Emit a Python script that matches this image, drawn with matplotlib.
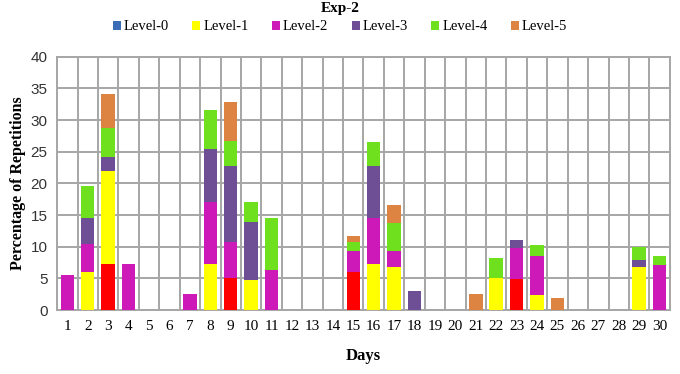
import numpy as np
import matplotlib.pyplot as plt
from matplotlib.patches import Patch

days = list(range(1, 31))
levels = ["Level-0", "Level-1", "Level-2", "Level-3", "Level-4", "Level-5"]

# percentage of repetitions per day for each level
level0 = [0, 0, 7.2, 0, 0, 0, 0, 0, 5.1, 0, 0, 0, 0, 0, 6.0, 0, 0, 0, 0, 0,
          0, 0, 4.9, 0, 0, 0, 0, 0, 0, 0]
level1 = [0, 6.0, 14.8, 0, 0, 0, 0, 7.2, 0, 4.7, 0, 0, 0, 0, 0, 7.2, 6.8, 0, 0, 0,
          0, 5.1, 0, 2.4, 0, 0, 0, 0, 6.8, 0]
level2 = [5.6, 4.4, 0, 7.2, 0, 0, 2.6, 9.8, 5.6, 0, 6.3, 0, 0, 0, 3.3, 7.4, 2.5, 0, 0, 0,
          0, 0, 4.9, 6.1, 0, 0, 0, 0, 0, 7.1]
level3 = [0, 4.1, 2.2, 0, 0, 0, 0, 8.4, 12.1, 9.2, 0, 0, 0, 0, 0, 8.2, 0, 3.0, 0, 0,
          0, 0, 1.2, 0, 0, 0, 0, 0, 1.1, 0]
level4 = [0, 5.1, 4.6, 0, 0, 0, 0, 6.2, 3.9, 3.2, 8.2, 0, 0, 0, 1.4, 3.7, 4.4, 0, 0, 0,
          0, 3.1, 0, 1.7, 0, 0, 0, 0, 2.0, 1.4]
level5 = [0, 0, 5.3, 0, 0, 0, 0, 0, 6.1, 0, 0, 0, 0, 0, 1.0, 0, 2.9, 0, 0, 0,
          2.5, 0, 0, 0, 1.85, 0, 0, 0, 0, 0]

series = [level0, level1, level2, level3, level4, level5]
bar_colors = ["#FF0000", "#FFFF00", "#CC19B8", "#6E4F96", "#6EE01E", "#DE8442"]
legend_colors = ["#3A6DB5", "#FFFF00", "#CC19B8", "#6E4F96", "#6EE01E", "#DE8442"]

plt.rcParams["font.family"] = ["Liberation Serif", "DejaVu Serif"]

fig = plt.figure(figsize=(6.8, 3.74), dpi=100)
ax = fig.add_axes([0.084, 0.171, 0.901, 0.677])

x = np.arange(len(days))
bottom = np.zeros(len(days))
for vals, color in zip(series, bar_colors):
    vals = np.array(vals)
    ax.bar(x, vals, width=0.66, bottom=bottom, color=color, zorder=3)
    bottom += vals

ax.set_xlim(-0.5, len(days) - 0.5)
ax.set_ylim(0, 40)
ax.set_yticks(range(0, 41, 5))
ax.set_xticks(x)
ax.set_xticklabels([str(d) for d in days], fontsize=11)
ax.set_xticks(np.arange(-0.5, len(days), 1.0), minor=True)
for lab in ax.get_yticklabels():
    lab.set_family(["Liberation Sans", "DejaVu Sans"])
    lab.set_fontsize(11)
    lab.set_color("#333333")

ax.tick_params(axis="both", which="both", length=0, pad=7)
ax.grid(which="minor", axis="x", color="#A6A6A6", linewidth=1.4, zorder=0)
ax.grid(which="major", axis="y", color="#A6A6A6", linewidth=1.4, zorder=0)
for s in ax.spines.values():
    s.set_color("#A6A6A6")
    s.set_linewidth(1.4)

ax.set_xlabel("Days", fontsize=12, fontweight="bold", labelpad=11)
ax.set_ylabel("Percentage of Repetitions", fontsize=11.5, fontweight="bold", labelpad=3)

handles = [Patch(facecolor=c, edgecolor="none") for c in legend_colors]
fig.legend(handles, levels, loc="center", bbox_to_anchor=(0.5, 0.928), ncol=6,
           frameon=False, fontsize=10.5, handlelength=0.55, handleheight=0.55,
           handletextpad=0.2, columnspacing=1.6)

# title sits right at the top edge, as in the original
fig.text(0.5, 1 - 12 / 374, "Exp-2", ha="center", va="baseline",
         fontsize=11, fontweight="bold")

fig.savefig("out.png", dpi=100)
